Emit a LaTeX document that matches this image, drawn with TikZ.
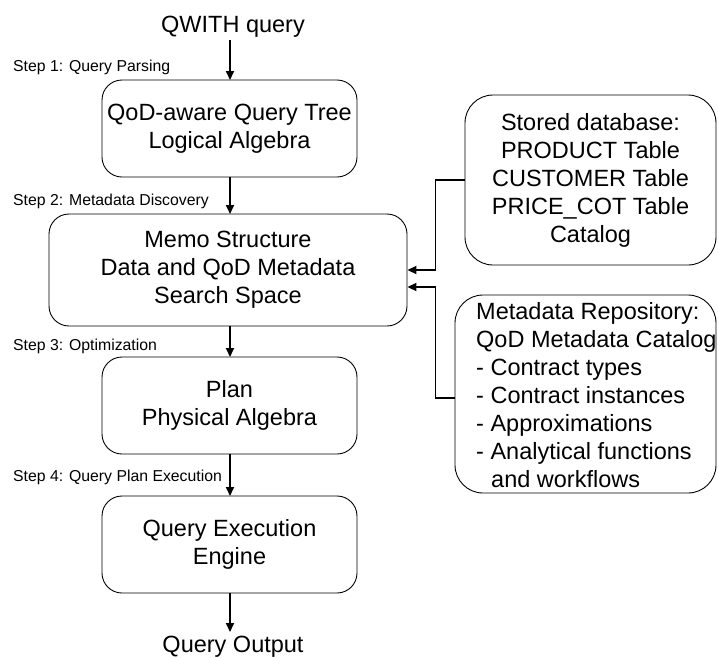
\documentclass[tikz,border=0pt]{standalone}
\usepackage{fontspec}
\setmainfont{Liberation Sans}
\usetikzlibrary{arrows.meta}
\begin{document}
\begin{tikzpicture}[x=1pt,y=-1pt,
  box/.style={draw,line width=0.9pt,rounded corners=20pt,inner sep=0pt,align=center,
    font=\fontsize{23.5}{28}\selectfont},
  rbox/.style={draw,line width=0.9pt,rounded corners=28pt,inner sep=0pt},
  big/.style={font=\fontsize{23.5}{28}\selectfont},
  steplbl/.style={anchor=base west,inner sep=0pt,font=\fontsize{15.8}{18}\selectfont},
  arr/.style={line width=1.8pt,-{Triangle[length=9pt,width=8pt]}}]
\useasboundingbox (0,0) rectangle (718,657);
% main column
\node[big,anchor=base,inner sep=1pt] (q) at (233,32) {QWITH query};
\node[box,minimum width=255pt,minimum height=97pt] (b1) at (229.5,128.5) {QoD-aware Query Tree\\Logical Algebra};
\node[box,minimum width=358pt,minimum height=112pt] (b2) at (228,270) {Memo Structure\\Data and QoD Metadata\\Search Space};
\node[box,minimum width=255pt,minimum height=97pt] (b3) at (229.5,405.5) {Plan\\Physical Algebra};
\node[box,minimum width=255pt,minimum height=97pt] (b4) at (229.5,544.5) {Query Execution\\Engine};
\node[big,anchor=base,inner sep=1pt] (out) at (233,652) {Query Output};
% step labels
\node[steplbl] (s1) at (13,71) {Step 1: Query Parsing};
\node[steplbl] (s2) at (13,205) {Step 2: Metadata Discovery};
\node[steplbl] (s3) at (13,350) {Step 3: Optimization};
\node[steplbl] (s4) at (13,481) {Step 4: Query Plan Execution};
% right boxes
\node[rbox,big,align=center,minimum width=251pt,minimum height=170pt] (rb1) at (590.5,180)
  {Stored database:\\PRODUCT Table\\CUSTOMER Table\\PRICE\_COT Table\\Catalog};
\node[rbox,minimum width=261pt,minimum height=198pt] (rb2) at (585.5,394) {};
\node[big,anchor=west,align=left,inner sep=0pt] (rb2t) at (476,395)
  {Metadata Repository:\\QoD Metadata Catalog\\- Contract types\\- Contract instances\\- Approximations\\- Analytical functions\\\hspace*{15pt}and workflows};
% connectors
\draw[arr] (230,40) -- (230,80);
\draw[arr] (230,177) -- (230,214);
\draw[arr] (230,326) -- (230,357);
\draw[arr] (230,454) -- (230,496);
\draw[arr] (230,593) -- (230,632);
\draw[arr] (rb1.west) -- ++(-29,0) |- (b2.east);
\draw[arr] ([yshift=-4pt]rb2.west) -- ++(-19,0) |- ([yshift=-17pt]b2.east);
\end{tikzpicture}
\end{document}
